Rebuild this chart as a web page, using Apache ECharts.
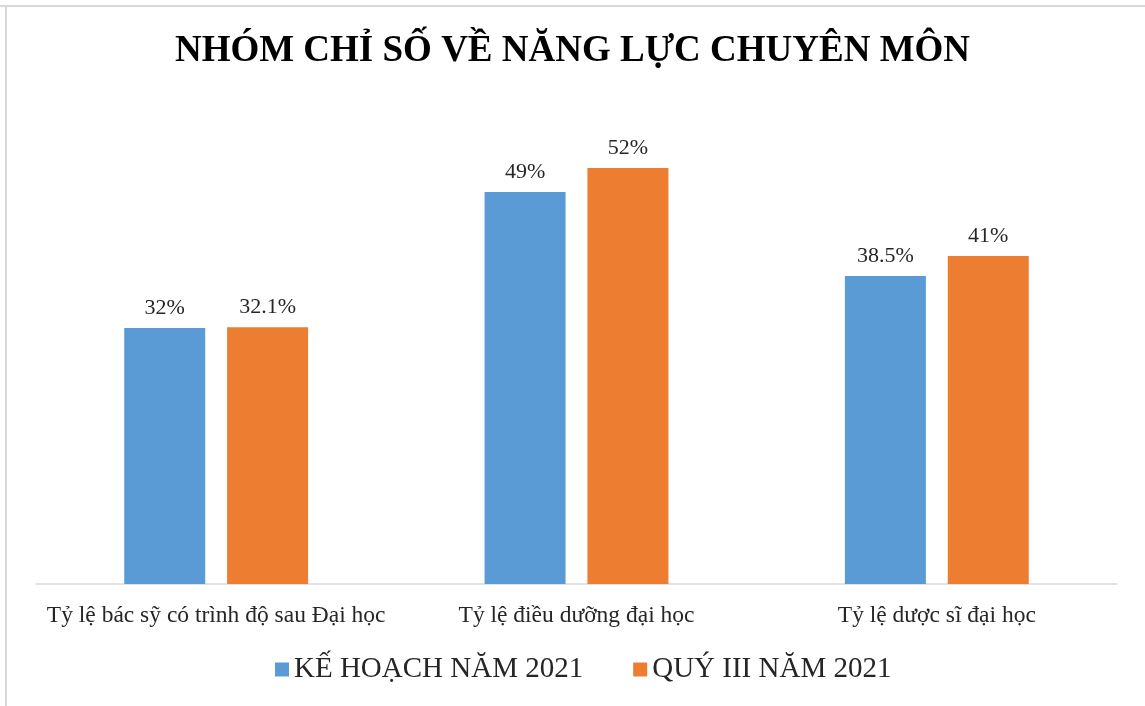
<!DOCTYPE html>
<html>
<head>
<meta charset="utf-8">
<script src="https://cdn.jsdelivr.net/npm/echarts@6/dist/echarts.min.js"></script>
<style>
html,body{margin:0;padding:0;background:#fff;}
#c{width:1145px;height:706px;}
</style>
</head>
<body>
<div id="c"></div>
<script>
const titleText = 'NHÓM CHỈ SỐ VỀ NĂNG LỰC CHUYÊN MÔN';
const categories = ['Tỷ lệ bác sỹ có trình độ sau Đại học', 'Tỷ lệ điều dưỡng đại học', 'Tỷ lệ dược sĩ đại học'];
const seriesNames = ['KẾ HOẠCH NĂM 2021', 'QUÝ III NĂM 2021'];
const planValues = [32, 49, 38.5];
const q3Values = [32.1, 52, 41];

const serif = '"Liberation Serif", "Times New Roman", serif';
const chart = echarts.init(document.getElementById('c'));
chart.setOption({
  backgroundColor: '#fff',
  animation: false,
  title: {
    text: titleText, left: 'center', top: 28,
    textStyle: {fontFamily: serif, fontSize: 37, fontWeight: 'bold', color: '#000'}
  },
  graphic: [
    {type: 'line', shape: {x1: 0, y1: 6, x2: 1145, y2: 6}, style: {stroke: '#d9d9d9', lineWidth: 2}},
    {type: 'line', shape: {x1: 6, y1: 5, x2: 6, y2: 706}, style: {stroke: '#d9d9d9', lineWidth: 2}}
  ],
  legend: {
    data: seriesNames, bottom: 17, left: 270,
    itemWidth: 14, itemHeight: 14, itemGap: 50,
    icon: 'rect',
    textStyle: {fontFamily: serif, fontSize: 29, color: '#262626'}
  },
  grid: {left: 36, right: 28, top: 104, bottom: 122},
  xAxis: {
    type: 'category', data: categories,
    axisLine: {lineStyle: {color: '#d9d9d9', width: 1.5}},
    axisTick: {show: false},
    axisLabel: {fontFamily: serif, fontSize: 23.5, color: '#262626', margin: 20, interval: 0}
  },
  yAxis: {
    type: 'value', min: 0, max: 60, interval: 10, show: false,
    splitLine: {show: false}
  },
  series: [
    {
      name: seriesNames[0], type: 'bar', data: planValues,
      barWidth: 81, barGap: '27%',
      itemStyle: {color: '#5B9BD5'},
      label: {show: true, position: 'top', distance: 9, formatter: p => p.value + '%',
        fontFamily: serif, fontSize: 22, color: '#262626'}
    },
    {
      name: seriesNames[1], type: 'bar', data: q3Values,
      barWidth: 81, barGap: '27%',
      itemStyle: {color: '#ED7D31'},
      label: {show: true, position: 'top', distance: 9, formatter: p => p.value + '%',
        fontFamily: serif, fontSize: 22, color: '#262626'}
    }
  ]
});
</script>
</body>
</html>
